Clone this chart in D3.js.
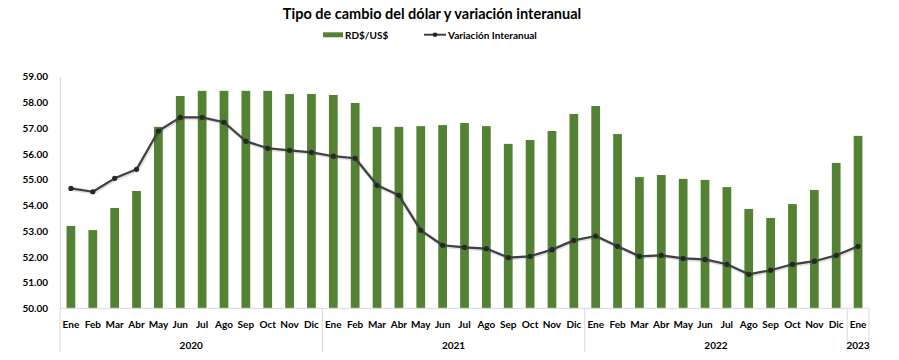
<!DOCTYPE html>
<html><head><meta charset="utf-8">
<script src="https://cdn.jsdelivr.net/npm/d3@7"></script>
<style>body{margin:0;background:#fff}svg{display:block}text{font-family:Lato,"Open Sans",sans-serif;font-weight:bold;fill:#000}</style>
</head><body><div id="chart"></div>
<script>
const months = ["Ene","Feb","Mar","Abr","May","Jun","Jul","Ago","Sep","Oct","Nov","Dic",
"Ene","Feb","Mar","Abr","May","Jun","Jul","Ago","Sep","Oct","Nov","Dic",
"Ene","Feb","Mar","Abr","May","Jun","Jul","Ago","Sep","Oct","Nov","Dic","Ene"];
const years = ["2020","2021","2022","2023"];
const yearCounts = [12,12,12,1];
const tasa = [53.20,53.04,53.90,54.56,57.05,58.25,58.45,58.45,58.45,58.45,58.33,58.33,
58.29,57.98,57.05,57.05,57.08,57.12,57.20,57.08,56.39,56.54,56.89,57.55,
57.86,56.77,55.10,55.18,55.03,54.99,54.71,53.86,53.51,54.05,54.60,55.65,56.70];
const variacion = [54.66,54.53,55.05,55.40,56.89,57.42,57.42,57.23,56.49,56.22,56.14,56.06,
55.91,55.83,54.78,54.39,53.03,52.45,52.37,52.32,51.97,52.02,52.28,52.64,
52.81,52.41,52.02,52.06,51.94,51.90,51.71,51.32,51.48,51.71,51.83,52.06,52.41];
const yTicks = [50,51,52,53,54,55,56,57,58,59];
const seriesNames = ["RD$/US$","Variación Interanual"];
const title = "Tipo de cambio del dólar y variación interanual";

const W=899,H=360, L=60, R=869, T=76.7, B=308.3;
const svg=d3.select("#chart").append("svg").attr("width",W).attr("height",H);
const idx=d3.range(months.length);
const x=d3.scaleBand().domain(idx).range([L,R]).paddingInner(0.6).paddingOuter(0.3);
const xc=i=>x(i)+x.bandwidth()/2;
const y=d3.scaleLinear().domain([50,59]).range([B,T]);
const green="#548235", lineCol="#404040", axisCol="#d9d9d9";

// title
svg.append("text").attr("x",432).attr("y",18.5).attr("text-anchor","middle").style("font-size","14.5px").text(title);
// legend
svg.append("rect").attr("x",323).attr("y",32.3).attr("width",20).attr("height",5).attr("fill",green);
svg.append("text").attr("x",345).attr("y",38.5).style("font-size","10px").text(seriesNames[0]);
svg.append("line").attr("x1",424).attr("x2",446).attr("y1",34.7).attr("y2",34.7).attr("stroke",lineCol).attr("stroke-width",2);
svg.append("circle").attr("cx",435).attr("cy",34.7).attr("r",2.3).attr("fill","#262626");
svg.append("text").attr("x",448).attr("y",38.5).style("font-size","10px").text(seriesNames[1]);

// y axis
const ya=svg.append("g").attr("transform",`translate(${L},0)`)
 .call(d3.axisLeft(y).tickValues(yTicks).tickFormat(d3.format(".2f")).tickSize(0).tickPadding(12));
ya.select(".domain").attr("stroke",axisCol);
ya.selectAll("text").style("font-size","10px").style("font-family","Lato,'Open Sans',sans-serif").style("font-weight","bold").attr("fill","#000");

// bars
svg.append("g").selectAll("rect").data(tasa).join("rect")
 .attr("x",(d,i)=>x(i)).attr("width",x.bandwidth()).attr("y",d=>y(d)).attr("height",d=>B-y(d)).attr("fill",green);

// x axis (multi-level)
const step=x.step();
const xa=svg.append("g");
xa.append("line").attr("x1",L).attr("x2",R).attr("y1",B).attr("y2",B).attr("stroke",axisCol);
let cum=0; const bounds=[0];
yearCounts.forEach(c=>{cum+=c;bounds.push(cum);});
const bx=k=>k>=months.length?R:(k===0?L:x(k)-x.paddingInner()*step/2*0+ (x(k)-x(k-1)-x.bandwidth())/2*0 - (step-x.bandwidth())/2);
const bpos=bounds.map(k=>k===0?L:(k>=months.length?R:xc(k)-step/2));
bpos.forEach(p=>xa.append("line").attr("x1",p).attr("x2",p).attr("y1",B).attr("y2",352).attr("stroke",axisCol));
xa.selectAll("text.m").data(months).join("text").attr("class","m")
 .attr("x",(d,i)=>xc(i)).attr("y",328).attr("text-anchor","middle").style("font-size","10px").text(d=>d);
xa.selectAll("text.yr").data(years).join("text").attr("class","yr")
 .attr("x",(d,i)=>(bpos[i]+bpos[i+1])/2).attr("y",348.5).attr("text-anchor","middle").style("font-size","10px").text(d=>d);

// line
const line=d3.line().x((d,i)=>xc(i)).y(d=>y(d));
svg.append("path").datum(variacion).attr("d",line).attr("fill","none").attr("stroke","rgba(0,0,0,0.12)").attr("stroke-width",4).attr("transform","translate(0.8,0.8)");
svg.append("path").datum(variacion).attr("d",line).attr("fill","none").attr("stroke",lineCol).attr("stroke-width",2.2).attr("stroke-linejoin","round");
svg.append("g").selectAll("circle").data(variacion).join("circle")
 .attr("cx",(d,i)=>xc(i)).attr("cy",d=>y(d)).attr("r",2.6).attr("fill","#262626");
</script></body></html>
